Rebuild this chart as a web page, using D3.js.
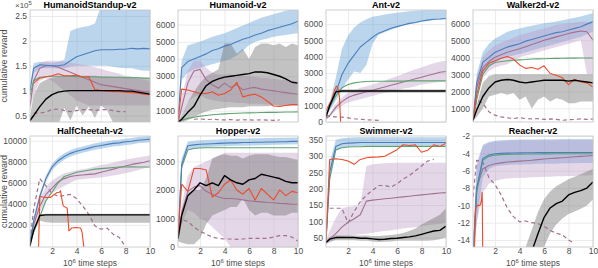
<!DOCTYPE html>
<html>
<head>
<meta charset="utf-8">
<script src="https://cdn.jsdelivr.net/npm/d3@7"></script>
<style>
  body { margin: 0; background: #fff; }
  svg text { font-family: "Liberation Sans", Arial, sans-serif; }
</style>
</head>
<body>
<svg id="chart" width="598" height="268"></svg>
<script>
// x positions (10^6 time steps) shared by all curves
const steps = [0.2, 0.5, 1, 1.5, 2, 2.5, 3, 3.5, 4, 4.5, 5, 5.5, 6, 6.5, 7, 7.5, 8, 8.5, 9, 9.5, 10];
const xTicks = [2, 4, 6, 8, 10];

// line order: blue, green, purple, purple dashed, red, black
// band order: blue lo/hi, purple lo/hi, black (gray) lo/hi
// a curve may also be given as [x, y] pairs

// HumanoidStandup (x 10^5)
const standupLines = [
  [1.0, 1.45, 1.52, 1.51, 1.5, 1.5, 1.52, 1.6, 1.68, 1.72, 1.76, 1.8, 1.82, 1.82, 1.82, 1.83, 1.83, 1.85, 1.84, 1.85, 1.84],
  [0.9, 1.2, 1.27, 1.28, 1.29, 1.29, 1.29, 1.29, 1.28, 1.28, 1.28, 1.28, 1.27, 1.27, 1.27, 1.27, 1.26, 1.26, 1.26, 1.25, 1.25],
  [0.7, 1.2, 1.45, 1.5, 1.5, 1.47, 1.42, 1.37, 1.32, 1.27, 1.22, 1.17, 1.12, 1.1, 1.08, 1.06, 1.04, 1.02, 1.0, 0.98, 0.97],
  [null, 0.55, 0.55, 0.57, 0.62, 0.63, 0.6, 0.58, 0.6, 0.62, 0.62, 0.6, 0.62, 0.62, 0.6, 0.58, 0.58, null, null, null, null],
  [null, 1.15, 1.25, 1.28, 1.3, 1.34, 1.3, 1.3, 1.31, 1.27, 1.28, 1.02, 1.0, 0.99, 0.98, 0.98, 0.97, 0.96, 0.95, 0.93, 0.92],
  [0.4, 0.5, 0.68, 0.83, 0.92, 0.97, 0.99, 1.0, 1.0, 1.0, 1.0, 1.0, 1.0, 1.0, 1.0, 1.0, 0.99, 0.99, 0.97, 0.95, 0.93]
];
const standupBands = [
  [0.9, 1.35, 1.45, 1.45, 1.45, 1.45, 1.45, 1.48, 1.5, 1.5, 1.5, 1.5, 1.5, 1.5, 1.48, 1.46, 1.45, 1.45, 1.42, 1.4, 1.4],
  [1.1, 1.55, 1.58, 1.57, 1.56, 1.58, 1.62, 2.2, 2.25, 2.28, 2.3, 2.35, 2.7, 2.7, 2.7, 2.7, 2.7, 2.7, 2.7, 2.7, 2.7],
  [0.6, 0.9, 1.2, 1.25, 1.2, 1.1, 1.0, 0.9, 0.8, 0.75, 0.7, 0.7, 0.7, 0.7, 0.7, 0.7, 0.7, 0.7, 0.7, 0.7, 0.7],
  [0.8, 1.4, 1.55, 1.6, 1.6, 1.6, 1.58, 1.56, 1.54, 1.52, 1.5, 1.47, 1.44, 1.4, 1.37, 1.34, 1.3, 1.28, 1.25, 1.22, 1.2],
  [0.3, 0.3, 0.3, 0.3, 0.3, 0.3, 0.65, 0.4, 0.7, 0.5, 0.68, 0.45, 0.7, 0.6, 0.35, 0.3, 0.3, 0.3, 0.3, 0.3, 0.3],
  [0.5, 0.9, 1.15, 1.22, 1.26, 1.28, 1.29, 1.29, 1.3, 1.3, 1.3, 1.3, 1.29, 1.29, 1.28, 1.28, 1.28, 1.28, 1.27, 1.27, 1.26]
];

// Humanoid
const humanoidLines = [
  [400, 3500, 3850, 4000, 4150, 4300, 4500, 4600, 4750, 4850, 5000, 5150, 5250, 5400, 5500, 5650, 5750, 5850, 5950, 6050, 6200],
  [300, 450, 550, 620, 680, 720, 760, 790, 810, 830, 850, 860, 870, 880, 890, 900, 900, 910, 920, 920, 930],
  [300, 1200, 2600, 3300, 3400, 2800, 2500, 2300, 2600, 2350, 2500, 2200, 2300, 2350, 2250, 2200, 2150, 2100, 2050, 2000, 1950],
  [null, null, null, 500, 520, 480, 500, 470, 460, 480, 450, 470, 460, 450, 470, 450, 440, 460, null, null, null],
  [400, 2250, 2200, 2100, 2000, 2000, 2100, 1900, 2000, 2200, 2650, 1800, 1900, 1950, 1800, 1550, 1270, 1250, 1300, 1350, 1350],
  [300, 500, 900, 1250, 1900, 2450, 2700, 2850, 2950, 3000, 3050, 3100, 3150, 3250, 3250, 3200, 3100, 3000, 2850, 2650, 2600]
];
const humanoidBands = [
  [300, 2800, 3200, 3400, 3500, 3600, 3700, 3800, 3900, 4000, 4200, 4500, 4800, 5000, 5100, 5200, 5300, 5350, 5400, 5450, 5500],
  [500, 3900, 4800, 4900, 5000, 5150, 5300, 5400, 5500, 5650, 5800, 5950, 6100, 6250, 6400, 6500, 6600, 6700, 6800, 6900, 6900],
  [200, 700, 1500, 1800, 1900, 1700, 1600, 1550, 1500, 1500, 1450, 1450, 1400, 1400, 1400, 1350, 1350, 1300, 1300, 1300, 1300],
  [400, 1800, 3300, 3900, 3900, 3500, 3200, 3100, 3100, 3100, 3050, 3000, 3000, 2950, 2900, 2900, 2850, 2800, 2800, 2750, 2700],
  [250, 300, 450, 600, 800, 950, 1050, 1100, 1150, 1200, 1200, 1200, 1250, 1250, 1250, 1250, 1300, 1300, 1300, 1300, 1300],
  [400, 700, 1500, 2100, 2600, 3000, 3200, 3400, 4900, 4900, 4300, 4600, 4000, 4700, 4900, 4900, 4800, 4900, 4700, 4900, 4800]
];

// Ant
const antLines = [
  [500, 900, 1800, 2900, 3600, 4100, 4600, 4900, 5200, 5450, 5600, 5750, 5850, 5950, 6050, 6100, 6200, 6250, 6300, 6320, 6350],
  [400, 900, 1600, 2100, 2300, 2400, 2450, 2480, 2500, 2500, 2500, 2510, 2510, 2510, 2520, 2520, 2520, 2520, 2520, 2520, 2520],
  [200, 400, 900, 1250, 1500, 1650, 1750, 1850, 1950, 2050, 2150, 2250, 2350, 2450, 2550, 2650, 2750, 2850, 2950, 3050, 3100],
  [400, 350, 320, 300, 250, 200, 170, 140, 120, 100, null, null, null, null, null, null, null, null, null, null, null],
  [[0.2, 700], [0.65, 1350], [0.9, 1950], [1.05, 2200], [1.18, 2100], [1.3, 1500], [1.4, -100]],
  [300, 1000, 1850, 1900, 1900, 1900, 1900, 1900, 1900, 1900, 1900, 1900, 1900, 1900, 1900, 1900, 1900, 1900, 1900, 1900, 1900]
];
const antBands = [
  [400, 700, 1300, 2000, 2600, 3100, 3000, 3500, 4800, 5350, 5500, 5650, 5800, 5900, 6000, 6050, 6150, 6200, 6250, 6280, 6300],
  [600, 1200, 2700, 4500, 5300, 5800, 6100, 6300, 6450, 6520, 6600, 6650, 6700, 6750, 6800, 6820, 6850, 6870, 6880, 6890, 6900],
  [150, 300, 700, 1000, 1200, 1300, 1400, 1500, 1600, 1700, 1800, 1850, 1950, 2050, 2100, 2200, 2300, 2350, 2400, 2450, 2500],
  [250, 500, 1100, 1500, 1800, 1950, 2100, 2200, 2300, 2420, 2550, 2680, 2800, 2950, 3100, 3230, 3350, 3480, 3600, 3700, 3750],
  [250, 900, 1780, 1800, 1800, 1800, 1800, 1800, 1800, 1800, 1800, 1800, 1800, 1800, 1800, 1800, 1800, 1800, 1800, 1800, 1800],
  [350, 1100, 1980, 2000, 2000, 2000, 2000, 2000, 2000, 2000, 2000, 2000, 2000, 2000, 2000, 2000, 2000, 2000, 2000, 2000, 2000]
];

// Walker2d
const walkerLines = [
  [300, 2500, 3700, 4000, 4300, 4450, 4600, 4700, 4800, 4950, 5050, 5150, 5250, 5350, 5450, 5500, 5600, 5700, 5800, 5950, 6100],
  [300, 1500, 3000, 3500, 3700, 3750, 3800, 3830, 3850, 3870, 3900, 3910, 3920, 3930, 3940, 3945, 3950, 3955, 3960, 3960, 3960],
  [300, 2200, 3400, 3750, 4000, 4150, 4300, 4400, 4500, 4620, 4750, 4870, 5000, 5100, 5200, 5300, 5400, 5480, 5550, 5500, 5000],
  [400, 1500, 1300, 800, 600, 500, 450, 400, 450, 400, 380, 400, 350, 380, 350, 300, 330, 350, 380, 350, 380],
  [300, 1800, 3200, 3650, 3800, 3950, 4050, 3900, 3550, 3350, 3400, 3300, 3500, 3050, 2950, 2800, 2400, 2700, 2550, 2500, 2250],
  [300, 900, 1700, 2200, 2550, 2650, 2700, 2650, 2550, 2500, 2550, 2600, 2650, 2650, 2650, 2650, 2600, 2650, 2600, 2550, 2500]
];
const walkerBands = [
  [250, 2000, 3100, 3400, 3700, 3900, 4000, 4100, 4200, 4300, 4400, 4500, 4600, 4700, 4800, 4900, 5000, 5100, 5200, 5350, 5500],
  [350, 3000, 4300, 4800, 5100, 5300, 5500, 5600, 5700, 5780, 5850, 5930, 6000, 6050, 6100, 6180, 6250, 6320, 6400, 6500, 6600],
  [250, 1600, 2800, 3200, 3400, 3500, 3600, 3800, 4000, 4100, 4200, 4300, 4400, 4500, 4600, 4700, 4800, 4900, 5000, 3000, 3000],
  [350, 2800, 4000, 4400, 4700, 4850, 5000, 5150, 5300, 5400, 5500, 5600, 5700, 5800, 5900, 5950, 6000, 6050, 6100, 6100, 6000],
  [250, 500, 1000, 1700, 1800, 1900, 1800, 1900, 1500, 1700, 1000, 1500, 1700, 1400, 1600, 1500, 1300, 1300, 1400, 1400, 1400],
  [350, 1200, 2500, 2900, 3000, 3000, 3000, 3000, 3000, 3000, 3000, 3000, 3000, 3000, 3000, 3000, 3000, 3000, 3000, 3000, 3000]
];

// HalfCheetah
const cheetahLines = [
  [300, 2400, 4700, 6400, 7500, 8100, 8500, 8800, 9000, 9150, 9300, 9450, 9550, 9650, 9750, 9800, 9900, 9950, 10050, 10100, 10150],
  [300, 1300, 2800, 4300, 5100, 6000, 6600, 6800, 7000, 7100, 7200, 7300, 7350, 7400, 7450, 7500, 7500, 7520, 7500, 7500, 7500],
  [500, 2000, 3800, 4900, 5500, 6100, 6400, 6600, 6700, 6750, 6800, 6850, 7000, 7150, 7300, 7450, 7600, 7750, 7850, 7950, 8100],
  [500, 3500, 6400, 5700, 5000, 4700, 4800, 4900, 4500, 3800, 3000, 1900, 1600, 1700, 1100, 800, -100, null, null, null, null],
  [[0.9, -200], [1.0, 4700], [1.5, 4600], [1.87, 4600], [2.2, 4900], [2.42, 5080], [2.6, 5100], [2.69, 5250], [2.8, 4500],
   [2.91, 3810], [3.24, 3590], [3.38, 1430], [3.6, 1700], [3.93, 1750], [4.34, 1700], [4.45, 1300], [4.61, -200]],
  [0, 1500, 2900, 2950, 2950, 2950, 2950, 2950, 2950, 2950, 2950, 2950, 2950, 2950, 2950, 2950, 2950, 2950, 2950, 2950, 2950]
];
const cheetahBands = [
  [100, 2100, 4400, 6100, 7200, 7800, 8200, 8500, 8700, 8850, 9000, 9150, 9250, 9350, 9450, 9500, 9600, 9650, 9750, 9800, 9850],
  [500, 2700, 5000, 6700, 7800, 8400, 8800, 9100, 9300, 9450, 9600, 9750, 9850, 9950, 10050, 10100, 10200, 10250, 10350, 10400, 10450],
  [400, 1600, 3200, 4200, 5000, 5400, 5700, 6000, 6300, 6350, 6400, 6450, 6500, 6600, 6700, 6800, 6900, 7050, 7200, 7350, 7500],
  [600, 2400, 4500, 5600, 6200, 6600, 6900, 7050, 7200, 7300, 7400, 7550, 7700, 7800, 7900, 8050, 8200, 8300, 8400, 8500, 8600],
  [0, 1400, 2400, 2250, 2200, 2200, 2200, 2200, 2200, 2200, 2200, 2200, 2200, 2200, 2200, 2200, 2200, 2200, 2200, 2200, 2200],
  [0, 1600, 3000, 3050, 3050, 3050, 3050, 3050, 3050, 3050, 3050, 3050, 3050, 3050, 3050, 3050, 3050, 3050, 3050, 3050, 3050]
];

// Hopper
const hopperLines = [
  [300, 2900, 3550, 3580, 3600, 3610, 3620, 3630, 3640, 3650, 3650, 3660, 3660, 3670, 3670, 3680, 3680, 3690, 3690, 3700, 3700],
  [300, 2800, 3400, 3450, 3470, 3480, 3480, 3480, 3480, 3480, 3480, 3480, 3480, 3480, 3480, 3480, 3480, 3480, 3480, 3480, 3480],
  [300, 1200, 1950, 2100, 2150, 1950, 1850, 1750, 1700, 1700, 1680, 1650, 1620, 1600, 1580, 1560, 1550, 1530, 1520, 1500, 1500],
  [300, 950, 900, 700, 550, 450, 350, 300, 280, 280, 270, 280, 300, 300, 300, 300, 350, 400, 400, 350, 200],
  [400, 2200, 1950, 2750, 2750, 2700, 1750, 1900, 2200, 2350, 2000, 1850, 2050, 1650, 2050, 1850, 1650, 2000, 1800, 1950, 1900],
  [300, 1100, 1800, 2000, 2250, 2150, 2250, 2150, 2500, 2350, 2250, 2200, 2350, 2400, 2550, 2500, 2450, 2400, 2300, 2250, 2250]
];
const hopperBands = [
  [250, 2700, 3400, 3450, 3480, 3500, 3510, 3520, 3530, 3540, 3550, 3550, 3560, 3560, 3570, 3570, 3580, 3580, 3590, 3590, 3600],
  [350, 3100, 3700, 3720, 3740, 3750, 3760, 3770, 3780, 3790, 3800, 3800, 3800, 3810, 3810, 3820, 3820, 3830, 3830, 3840, 3840],
  [200, 800, 1300, 1200, 1000, 900, 700, 500, 300, 0, 0, 0, 0, 0, 0, 0, 0, 0, 0, 0, 0],
  [400, 1500, 2500, 2800, 2900, 3000, 3100, 3200, 3300, 3300, 3300, 3300, 3300, 3300, 3300, 3300, 3300, 3300, 3300, 3300, 3300],
  [200, 150, 100, 100, 300, 800, 1100, 1200, 1300, 1400, 1400, 1700, 1300, 1100, 1200, 1200, 1100, 1100, 1100, 1200, 1200],
  [300, 1300, 1900, 2000, 2000, 2400, 3100, 3200, 3250, 3200, 3200, 3100, 3200, 3250, 3250, 3250, 3200, 3150, 3150, 3100, 3050]
];

// Swimmer
const swimmerLines = [
  [40, 250, 330, 338, 340, 341, 342, 342, 342, 342, 342, 342, 342, 342, 342, 342, 342, 342, 342, 342, 342],
  [40, 230, 320, 326, 328, 329, 329, 330, 330, 330, 330, 330, 330, 330, 330, 330, 330, 330, 330, 330, 330],
  [35, 45, 62, 82, 97, 108, 120, 162, 165, 167, 169, 171, 173, 175, 177, 179, 181, 183, 185, 187, 188],
  [null, 140, 140, 140, 95, 130, 160, 180, 195, 210, 210, 205, 215, 230, 240, 255, 270, 285, 290, null, null],
  [40, 290, 292, 290, 285, 275, 290, 295, 297, 298, 300, 310, 320, 335, 333, 335, 312, 318, 335, 330, 340],
  [35, 45, 50, 50, 50, 50, 48, 48, 46, 44, 45, 47, 48, 50, 52, 55, 60, 65, 70, 72, 85]
];
const swimmerBands = [
  [35, 220, 315, 325, 328, 330, 331, 332, 332, 332, 332, 332, 332, 332, 332, 332, 332, 332, 332, 332, 332],
  [45, 280, 350, 355, 357, 358, 358, 358, 358, 358, 358, 358, 358, 358, 358, 358, 358, 358, 358, 358, 358],
  [30, 35, 45, 50, 55, 58, 60, 62, 65, 68, 70, 72, 75, 78, 80, 82, 85, 88, 90, 92, 95],
  [40, 70, 110, 140, 145, 147, 150, 270, 275, 277, 278, 279, 280, 280, 280, 280, 280, 280, 280, 280, 280],
  [30, 38, 42, 42, 42, 42, 40, 40, 38, 36, 37, 38, 40, 40, 40, 40, 40, 40, 42, 45, 50],
  [40, 52, 56, 56, 56, 56, 56, 56, 55, 55, 56, 58, 60, 64, 70, 78, 90, 100, 110, 120, 140]
];

// Reacher
const reacherLines = [
  [-16, -8, -4.6, -4.2, -4.05, -4.0, -3.98, -3.96, -3.95, -3.94, -3.93, -3.92, -3.92, -3.91, -3.9, -3.9, -3.9, -3.9, -3.9, -3.9, -3.9],
  [-16, -8.5, -4.8, -4.35, -4.2, -4.15, -4.12, -4.1, -4.1, -4.08, -4.08, -4.07, -4.06, -4.06, -4.05, -4.05, -4.05, -4.05, -4.05, -4.05, -4.05],
  [-16, -8, -5.8, -5.4, -5.2, -5.1, -5.0, -4.95, -4.9, -4.85, -4.8, -4.72, -4.65, -4.6, -4.55, -4.5, -4.45, -4.4, -4.35, -4.3, -4.25],
  [-9, -4.8, -5.0, -6.8, -7.6, -8.8, -10.3, -11.3, -11.9, -11.8, -12.0, -12.1, -12.4, -12.9, -13.2, -13.4, -14.0, -14.4, null, null, null],
  [[0.3, -16], [0.42, -10.3], [0.55, -10], [0.78, -10], [0.88, -9.5], [0.95, -8.5], [1.0, -16]],
  [null, null, null, null, null, null, null, null, null, null, -15.3, -13.3, -11.4, -10.3, -9.8, -9.5, -8.8, -8.5, -8.3, -8.0, -7.3]
];
const reacherBands = [
  [-16, -12, -6.8, -5.8, -5.5, -5.4, -5.35, -5.3, -5.3, -5.25, -5.25, -5.2, -5.2, -5.2, -5.2, -5.15, -5.15, -5.15, -5.1, -5.1, -5.1],
  [-15, -5.5, -3.0, -2.7, -2.55, -2.5, -2.45, -2.42, -2.4, -2.4, -2.4, -2.4, -2.38, -2.38, -2.38, -2.36, -2.36, -2.36, -2.35, -2.35, -2.35],
  [-16, -12, -8.5, -7.5, -7.2, -7.0, -6.9, -6.85, -6.8, -6.8, -6.75, -6.75, -6.7, -6.7, -6.65, -6.65, -6.6, -6.6, -6.55, -6.55, -6.5],
  [-15, -5, -3.2, -2.8, -2.65, -2.6, -2.55, -2.5, -2.5, -2.5, -2.5, -2.5, -2.5, -2.5, -2.5, -2.5, -2.5, -2.5, -2.5, -2.5, -2.5],
  [null, null, null, null, null, null, null, null, -16, -16, -16, -16, -14.8, -13.2, -12.2, -11.5, -11, -10.7, -10.4, -10.0, -9.3],
  [null, null, null, null, null, null, null, null, -16, -14.8, -12.8, -10.8, -9.3, -8.4, -7.8, -7.4, -7.0, -6.7, -6.4, -6.1, -5.8]
];

const panels = [
  { title: "HumanoidStandup-v2", lines: standupLines, bands: standupBands, yDomain: [0.37, 2.62], yTicks: [0.5, 1, 1.5, 2, 2.5] },
  { title: "Humanoid-v2", lines: humanoidLines, bands: humanoidBands, yDomain: [340, 6850], yTicks: [1000, 2000, 3000, 4000, 5000, 6000] },
  { title: "Ant-v2", lines: antLines, bands: antBands, yDomain: [0, 6870], yTicks: [0, 1000, 2000, 3000, 4000, 5000, 6000] },
  { title: "Walker2d-v2", lines: walkerLines, bands: walkerBands, yDomain: [200, 6780], yTicks: [1000, 2000, 3000, 4000, 5000, 6000] },
  { title: "HalfCheetah-v2", lines: cheetahLines, bands: cheetahBands, yDomain: [-100, 10450], yTicks: [2000, 4000, 6000, 8000, 10000] },
  { title: "Hopper-v2", lines: hopperLines, bands: hopperBands, yDomain: [0, 3890], yTicks: [0, 1000, 2000, 3000] },
  { title: "Swimmer-v2", lines: swimmerLines, bands: swimmerBands, yDomain: [21, 362], yTicks: [50, 100, 150, 200, 250, 300, 350] },
  { title: "Reacher-v2", lines: reacherLines, bands: reacherBands, yDomain: [-14.8, -2], yTicks: [-14, -12, -10, -8, -6, -4, -2] }
];

const lineStyle = [
  { color: "#4b7fbc", width: 1.1 },
  { color: "#5ea26f", width: 1.1 },
  { color: "#a2708f", width: 1.1 },
  { color: "#a2708f", width: 1.2, dash: "4,3" },
  { color: "#ec4a2b", width: 1.1 },
  { color: "#000000", width: 1.4 }
];
const bandStyle = [
  { color: "#5d9bd3", opacity: 0.42 },
  { color: "#b995c2", opacity: 0.38 },
  { color: "#777777", opacity: 0.45 }
];
const drawOrder = [3, 2, 1, 0, 4, 5];

const svg = d3.select("#chart");
const colLeft = [30, 178, 326, 473];
const rowTop = [10, 136];
const rowH = [112, 111];
const panelW = 120;

panels.forEach((p, k) => {
  const row = Math.floor(k / 4), col = k % 4;
  const x0 = colLeft[col], y0 = rowTop[row], h = rowH[row];

  const x = d3.scaleLinear().domain([0.2, 10]).range([x0, x0 + panelW]);
  const y = d3.scaleLinear().domain(p.yDomain).range([y0 + h, y0]);

  const g = svg.append("g");

  // grid + tick labels
  const yAxis = g.append("g")
    .attr("transform", `translate(${x0},0)`)
    .call(d3.axisLeft(y).tickValues(p.yTicks).tickSize(-panelW).tickPadding(3).tickFormat(d => String(d)));
  const xAxis = g.append("g")
    .attr("transform", `translate(0,${y0 + h})`)
    .call(d3.axisBottom(x).tickValues(xTicks).tickSize(-h).tickPadding(1)
      .tickFormat(row === 1 ? (d => String(d)) : () => ""));
  [yAxis, xAxis].forEach(a => {
    a.select(".domain").remove();
    a.selectAll("line").attr("stroke", "#e6e6e6").attr("stroke-width", 0.8);
    a.selectAll("text").attr("fill", "#4d4d4d").style("font-size", "8.5px");
  });

  const clipId = "clip" + k;
  svg.append("clipPath").attr("id", clipId)
    .append("rect").attr("x", x0).attr("y", y0).attr("width", panelW).attr("height", h);

  const plot = g.append("g").attr("clip-path", `url(#${clipId})`);

  const area = d3.area()
    .defined(d => d[1] != null && d[2] != null)
    .x(d => x(d[0])).y0(d => y(d[1])).y1(d => y(d[2]));

  bandStyle.forEach((s, i) => {
    const lo = p.bands[2 * i], hi = p.bands[2 * i + 1];
    const data = steps.map((v, j) => [v, lo[j], hi[j]]);
    plot.append("path")
      .datum(data)
      .attr("d", area)
      .attr("fill", s.color)
      .attr("fill-opacity", s.opacity);
  });

  const line = d3.line()
    .defined(d => d[1] != null)
    .x(d => x(d[0])).y(d => y(d[1]));

  drawOrder.forEach(i => {
    const s = p.lines[i];
    const pts = Array.isArray(s[0]) ? s : s.map((v, j) => [steps[j], v]);
    const st = lineStyle[i];
    plot.append("path")
      .datum(pts)
      .attr("d", line)
      .attr("fill", "none")
      .attr("stroke", st.color)
      .attr("stroke-width", st.width)
      .attr("stroke-linejoin", "round")
      .attr("stroke-dasharray", st.dash || null);
  });

  // frame
  g.append("rect")
    .attr("x", x0).attr("y", y0).attr("width", panelW).attr("height", h)
    .attr("fill", "none").attr("stroke", "#c4c4c4").attr("stroke-width", 0.8);

  // title
  g.append("text")
    .attr("x", x0 + panelW / 2).attr("y", y0 - 2)
    .attr("text-anchor", "middle")
    .style("font-size", "9px").style("font-weight", "bold")
    .text(p.title);

  if (col === 0) {
    g.append("text")
      .attr("transform", `translate(7,${y0 + h / 2}) rotate(-90)`)
      .attr("text-anchor", "middle")
      .attr("fill", "#4d4d4d")
      .style("font-size", "9px")
      .text("cumulative reward");
  }

  if (row === 1) {
    const t = g.append("text")
      .attr("x", x0 + panelW / 2).attr("y", 266)
      .attr("text-anchor", "middle")
      .attr("fill", "#4d4d4d")
      .style("font-size", "8.5px");
    t.append("tspan").text("10");
    t.append("tspan").attr("dy", -3.5).style("font-size", "6px").text("6");
    t.append("tspan").attr("dy", 3.5).text(" time steps");
  }
});

// exponent marker of the first panel
const ex = svg.append("text").attr("x", 15).attr("y", 8).attr("fill", "#4d4d4d").style("font-size", "8px");
ex.append("tspan").text("×10");
ex.append("tspan").attr("dy", -3).style("font-size", "6px").text("5");
</script>
</body>
</html>
